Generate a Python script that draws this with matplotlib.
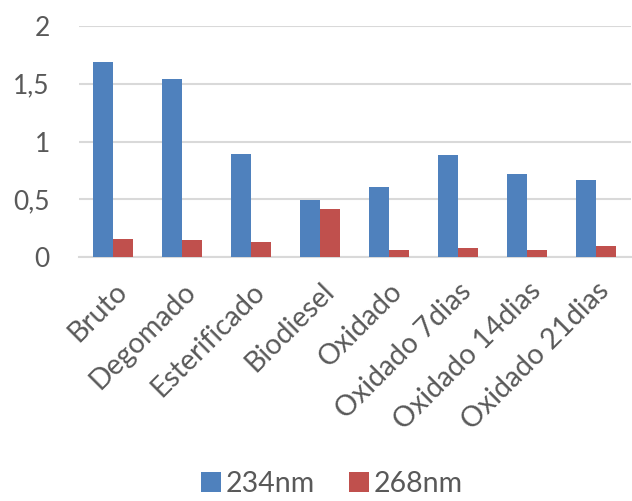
import matplotlib.pyplot as plt
import numpy as np

# data
categorias = ['Bruto', 'Degomado', 'Esterificado', 'Biodiesel', 'Oxidado',
              'Oxidado 7dias', 'Oxidado 14dias', 'Oxidado 21dias']
abs_234 = [1.69, 1.54, 0.89, 0.49, 0.61, 0.88, 0.72, 0.67]
abs_268 = [0.16, 0.15, 0.13, 0.42, 0.06, 0.08, 0.06, 0.095]
serie_nomes = ['234nm', '268nm']
y_ticks = [0, 0.5, 1, 1.5, 2]
y_tick_labels = ['0', '0,5', '1', '1,5', '2']

azul = '#4f81bd'
vermelho = '#c0504d'
cinza_texto = '#595959'

plt.rcParams['font.family'] = ['Lato', 'DejaVu Sans']

fig = plt.figure(figsize=(6.32, 5.01), dpi=100)
ax = fig.add_axes([0.125, 0.487, 0.873, 0.461])

x = np.arange(len(categorias))
w = 0.29
ax.bar(x - w / 2, abs_234, w, color=azul, label=serie_nomes[0], zorder=3)
ax.bar(x + w / 2, abs_268, w, color=vermelho, label=serie_nomes[1], zorder=3)

ax.set_xlim(-0.5, len(categorias) - 0.5)
ax.set_ylim(0, 2)
ax.set_yticks(y_ticks)
ax.set_yticklabels(y_tick_labels)
ax.yaxis.grid(True, color='#d9d9d9', linewidth=1.5, zorder=0)
ax.set_axisbelow(True)

ax.set_xticks(x)
ax.set_xticklabels(categorias, rotation=45, ha='right', rotation_mode='anchor')

for s in ['top', 'right', 'left']:
    ax.spines[s].set_visible(False)
ax.spines['bottom'].set_color('#d9d9d9')
ax.spines['bottom'].set_linewidth(1.5)

ax.tick_params(axis='both', length=0, labelcolor=cinza_texto)
ax.tick_params(axis='y', pad=21, labelsize=19)
ax.tick_params(axis='x', pad=15, labelsize=20.5)

fig.legend(loc='center', bbox_to_anchor=(0.525, 0.034), ncol=2, frameon=False,
           fontsize=20.5, labelcolor=cinza_texto, handlelength=0.7, handleheight=0.7,
           handletextpad=0.15, columnspacing=1.2, borderpad=0.1)

fig.savefig('out.png', dpi=100)
